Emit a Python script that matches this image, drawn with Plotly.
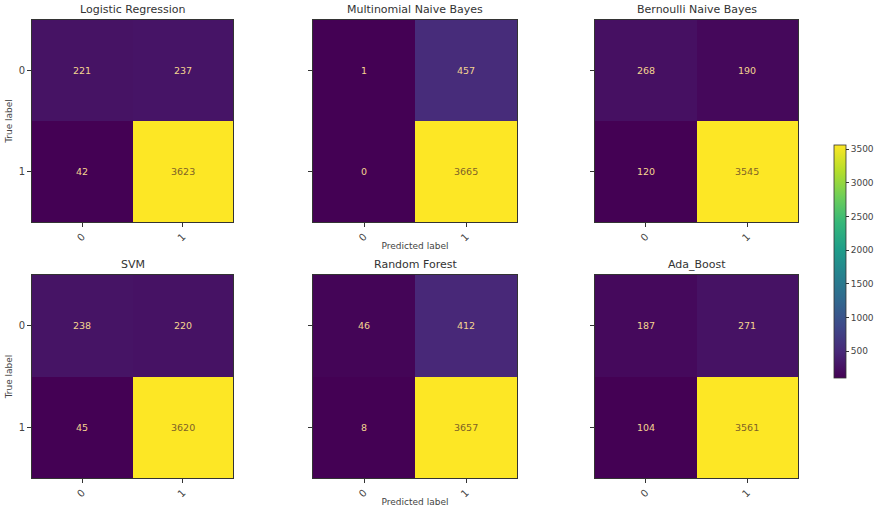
import plotly.graph_objects as go

# Confusion matrices (rows: true label 0/1, cols: predicted label 0/1)
model_names = ["Logistic Regression", "Multinomial Naive Bayes", "Bernoulli Naive Bayes",
               "SVM", "Random Forest", "Ada_Boost"]
logistic_regression = [[221, 237], [42, 3623]]
multinomial_nb = [[1, 457], [0, 3665]]
bernoulli_nb = [[268, 190], [120, 3545]]
svm = [[238, 220], [45, 3620]]
random_forest = [[46, 412], [8, 3657]]
ada_boost = [[187, 271], [104, 3561]]
class_labels = ["0", "1"]
colorbar_ticks = [500, 1000, 1500, 2000, 2500, 3000, 3500]

matrices = [logistic_regression, multinomial_nb, bernoulli_nb, svm, random_forest, ada_boost]

W, H = 877, 507
col_px = [(32, 233), (313, 517), (595, 798)]
row_px = [(20, 222), (275, 478)]

FONT = "DejaVu Sans"
DARK = "#333333"
TEXT_LIGHT = "#f4d590"
TEXT_DARK = "#7d6128"

fig = go.Figure()
annotations = []

for i, (name, z) in enumerate(zip(model_names, matrices)):
    r, c = divmod(i, 3)
    k = i + 1
    xa = "x" if k == 1 else f"x{k}"
    ya = "y" if k == 1 else f"y{k}"
    flat = [v for row in z for v in row]
    zmin, zmax = min(flat), max(flat)
    last = (i == len(matrices) - 1)
    fig.add_trace(go.Heatmap(
        z=z, x=[0, 1], y=[0, 1],
        colorscale="Viridis", zmin=zmin, zmax=zmax,
        xaxis=xa, yaxis=ya,
        showscale=last,
        colorbar=dict(
            x=834 / W, xanchor="left", xpad=0, ypad=0,
            y=1 - 145 / H, yanchor="top", len=(378 - 145) / H, lenmode="fraction",
            thickness=12, thicknessmode="pixels",
            outlinecolor=DARK, outlinewidth=0.8,
            tickvals=colorbar_ticks, ticks="outside", ticklen=3, tickcolor=DARK,
            tickfont=dict(family=FONT, size=9, color="#444444"),
        ) if last else None,
        hoverongaps=False,
    ))

    x0, x1 = col_px[c]
    y0, y1 = row_px[r]
    axx = dict(
        domain=[x0 / W, x1 / W], anchor=ya,
        range=[-0.5, 1.5], tickvals=[0, 1], ticktext=class_labels,
        tickangle=-45, ticks="outside", ticklen=4, tickcolor=DARK,
        tickfont=dict(family=FONT, size=10, color="#444444"),
        showgrid=False, zeroline=False,
        showline=True, linecolor=DARK, linewidth=0.8, mirror=True,
    )
    axy = dict(
        domain=[1 - y1 / H, 1 - y0 / H], anchor=xa,
        range=[1.5, -0.5], tickvals=[0, 1],
        ticktext=class_labels if c == 0 else ["", ""],
        ticks="outside", ticklen=4, tickcolor=DARK,
        tickfont=dict(family=FONT, size=10, color="#444444"),
        showgrid=False, zeroline=False,
        showline=True, linecolor=DARK, linewidth=0.8, mirror=True,
    )
    if c == 0:
        axy["title"] = dict(text="True label", font=dict(family=FONT, size=9, color="#444444"),
                            standoff=4)
    if c == 1:
        axx["title"] = dict(text="Predicted label", font=dict(family=FONT, size=9, color="#444444"),
                            standoff=0)
    fig.update_layout(**{("xaxis" if k == 1 else f"xaxis{k}"): axx,
                         ("yaxis" if k == 1 else f"yaxis{k}"): axy})

    # panel title
    annotations.append(dict(
        text=name, xref="paper", yref="paper",
        x=(x0 + x1) / 2 / W, y=1 - (y0 - 2) / H, xanchor="center", yanchor="bottom",
        showarrow=False, font=dict(family=FONT, size=11, color="#333333"),
    ))

    # cell counts
    mid = (zmin + zmax) / 2
    for ri in range(2):
        for ci in range(2):
            v = z[ri][ci]
            annotations.append(dict(
                text=str(v), xref=xa, yref=ya, x=ci, y=ri,
                showarrow=False,
                font=dict(family=FONT, size=9.5, color=TEXT_DARK if v > mid else TEXT_LIGHT),
            ))

fig.update_layout(
    width=W, height=H,
    margin=dict(l=0, r=0, t=0, b=0),
    paper_bgcolor="white", plot_bgcolor="white",
    annotations=annotations,
    showlegend=False,
)

fig.write_html("out.html")
